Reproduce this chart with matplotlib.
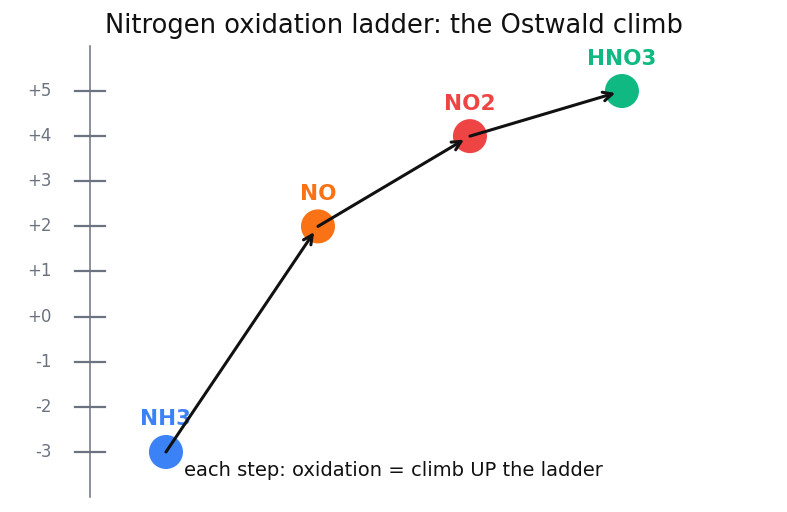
import matplotlib
matplotlib.use("Agg")
import matplotlib.pyplot as plt

# species along the Ostwald process and their N oxidation states
species = ["NH3", "NO", "NO2", "HNO3"]
ox_states = [-3, 2, 4, 5]
colors = ["#3b82f6", "#f97316", "#ef4444", "#10b981"]
rungs = list(range(-3, 6))
rung_labels = [("+%d" % r if r >= 0 else "%d" % r) for r in rungs]

fig = plt.figure(figsize=(7.87, 5.12), dpi=100)
ax = fig.add_axes([0, 0, 1, 1])
ax.set_xlim(-1.092, 4.086)
ax.set_ylim(-4.33, 7.017)
ax.axis("off")

# the ladder
gray = "#6b7280"
ax.plot([-0.5, -0.5], [-4, 6], color=gray, lw=1.1, zorder=1)
for r, lab in zip(rungs, rung_labels):
    ax.plot([-0.6, -0.4], [r, r], color=gray, lw=1.6, zorder=1)
    ax.text(-0.75, r, lab, ha="right", va="center", fontsize=12, color=gray)

xs = list(range(len(species)))
ax.scatter(xs, ox_states, s=600, c=colors, zorder=3, edgecolors="none")
for x, y, name, c in zip(xs, ox_states, species, colors):
    ax.text(x, y + 0.72, name, ha="center", va="center", fontsize=15.5,
            fontweight="bold", color=c, zorder=4)

# arrows between steps
for i in range(len(xs) - 1):
    ax.annotate("", xy=(xs[i + 1], ox_states[i + 1]), xytext=(xs[i], ox_states[i]),
                arrowprops=dict(arrowstyle="->", color="#111111", lw=2.2,
                                shrinkA=0, shrinkB=5, mutation_scale=16),
                zorder=5)

ax.text(0.12, -3.4, "each step: oxidation = climb UP the ladder",
        ha="left", va="center", fontsize=14, color="#111111")

fig.text(0.5, 1 - 26 / 512, "Nitrogen oxidation ladder: the Ostwald climb",
         ha="center", va="center", fontsize=18.5, color="#111111")

fig.savefig("out.png", dpi=100)
